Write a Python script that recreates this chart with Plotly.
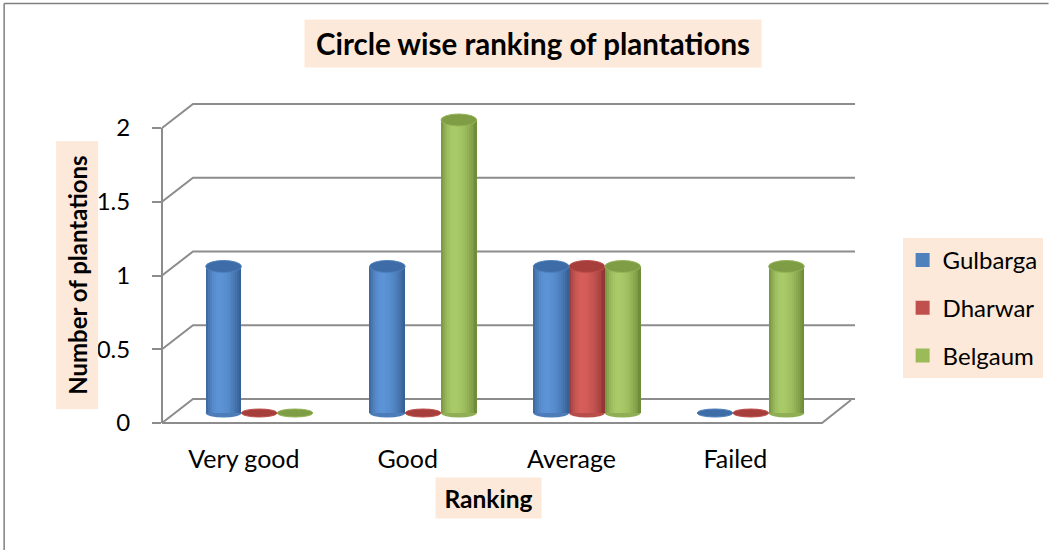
import plotly.graph_objects as go

# ---- data -------------------------------------------------------------
categories = ["Very good", "Good", "Average", "Failed"]
series_names = ["Gulbarga", "Dharwar", "Belgaum"]
gulbarga = [1, 1, 1, 0]
dharwar = [0, 0, 1, 0]
belgaum = [0, 2, 1, 1]
y_ticks = [0, 0.5, 1, 1.5, 2]
y_tick_labels = ["0", "0.5", "1", "1.5", "2"]

series_values = [gulbarga, dharwar, belgaum]

# ---- styling ----------------------------------------------------------
FONT = "Lato"
GRID = "#8C8C8C"
PEACH = "#FDE9D9"
# (edge shade, highlight shade, cap shade, legend swatch)
palette = [
    ("#345C8E", "#5C93D6", "#3E6CA6", "#4F81BD"),
    ("#8C3432", "#D55D5A", "#A63F3C", "#C0504D"),
    ("#6B8735", "#A9CA68", "#7E9D45", "#9BBB59"),
]

W, H = 1055, 550
PL, PR, PT, PB = 162, 855, 95, 432          # plot area in pixels
CAT = 165.0                                  # pixels per category (front)
FRONT_ZERO, FRONT_UNIT = 423.0, 147.5        # front axis: value 0 / px per unit
BAR_ZERO, BAR_UNIT = 413.0, 146.5            # mid-depth plane of the cylinders
BAR_SHIFT = 15.5                             # horizontal shift of mid-depth plane
DX, DY = 31, 24                              # depth of the box in pixels
FLOOR_W = 660                                # front floor edge length
BACK_W = PR - PL                             # back wall gridline end
BAR_PX = 36.0                                # cylinder diameter in pixels


def hex2rgb(h):
    h = h.lstrip("#")
    return tuple(int(h[i:i + 2], 16) for i in (0, 2, 4))


def mix(c1, c2, f):
    a, b = hex2rgb(c1), hex2rgb(c2)
    return "rgb({},{},{})".format(*[round(a[i] + (b[i] - a[i]) * f) for i in range(3)])


def shade_profile(t, peak=0.36):
    # brightness across a cylinder: dark rims, highlight left of centre
    if t < peak:
        d = (peak - t) / peak
        return 1 - 0.85 * d * d
    d = (t - peak) / (1 - peak)
    return 1 - d * d


def paper_x(p):
    return (p - PL) / (PR - PL)


def paper_y(p):
    return (PB - p) / (PB - PT)


# axis ranges derived from the pixel geometry above
x_range = [-0.5, -0.5 + (PR - PL) / CAT]
x2_range = [x_range[0] - BAR_SHIFT / CAT, x_range[1] - BAR_SHIFT / CAT]
y_range = [(FRONT_ZERO - PB) / FRONT_UNIT, (FRONT_ZERO - PT) / FRONT_UNIT]
y2_range = [(BAR_ZERO - PB) / BAR_UNIT, (BAR_ZERO - PT) / BAR_UNIT]

bw = BAR_PX / CAT                 # width of one cylinder in category units
n_strips = 18
sw = bw / n_strips
xpos = list(range(len(categories)))

fig = go.Figure()

# cylinder bodies: vertical strips shaded across the width
for k, vals in enumerate(series_values):
    edge, light, cap, swatch = palette[k]
    for j in range(n_strips):
        t = (j + 0.5) / n_strips
        col = mix(edge, light, shade_profile(t))
        fig.add_trace(go.Bar(
            x=xpos, y=vals,
            offset=(k - 1.5) * bw + j * sw,
            width=sw * (1.0 if j == n_strips - 1 else 1.35),
            marker=dict(color=col, line=dict(width=0)),
            xaxis="x2", yaxis="y2",
            showlegend=False, hoverinfo="skip",
        ))

# legend entries
for k, name in enumerate(series_names):
    fig.add_trace(go.Scatter(
        x=[None], y=[None], mode="markers", name=name,
        marker=dict(symbol="square", size=14, color=palette[k][3]),
        legendgroup=name,
    ))

shapes = []

# page border (top and left)
shapes.append(dict(type="line", xref="paper", yref="paper",
                   x0=paper_x(3), x1=paper_x(W), y0=paper_y(3.5), y1=paper_y(3.5),
                   line=dict(color="#7F7F7F", width=1.5), layer="below"))
shapes.append(dict(type="line", xref="paper", yref="paper",
                   x0=paper_x(3), x1=paper_x(3), y0=paper_y(3.5), y1=paper_y(H),
                   line=dict(color="#7F7F7F", width=1.5), layer="below"))

# back wall gridlines with their side-wall diagonals
for v in y_ticks:
    shapes.append(dict(
        type="path", xref="paper", yref="y", layer="below",
        xsizemode="pixel", xanchor=0, ysizemode="pixel", yanchor=v,
        path=f"M0,0 L{DX},{DY} L{BACK_W},{DY}",
        line=dict(color=GRID, width=2),
    ))

# floor front edge and right side
shapes.append(dict(
    type="path", xref="paper", yref="y", layer="below",
    xsizemode="pixel", xanchor=0, ysizemode="pixel", yanchor=0,
    path=f"M0,0 L{FLOOR_W},0 L{FLOOR_W + DX - 2},{DY - 1}",
    line=dict(color=GRID, width=2),
))
# front vertical axis line
shapes.append(dict(type="line", xref="paper", yref="y", layer="below",
                   x0=0, x1=0, y0=y_ticks[0], y1=y_ticks[-1],
                   line=dict(color=GRID, width=2)))

# rounded bottoms and caps of the cylinders
for k, vals in enumerate(series_values):
    edge, light, cap, swatch = palette[k]
    for i, v in enumerate(vals):
        x0 = i + (k - 1.5) * bw
        if v > 0:
            shapes.append(dict(
                type="circle", xref="x2", yref="y2", layer="below",
                x0=x0, x1=x0 + bw, ysizemode="pixel", yanchor=0, y0=-4.5, y1=4.5,
                fillcolor=mix(edge, light, 0.6), line=dict(width=0),
            ))
        h = 4.0 if v == 0 else 6.0
        shapes.append(dict(
            type="circle", xref="x2", yref="y2", layer="above",
            x0=x0, x1=x0 + bw, ysizemode="pixel", yanchor=v, y0=-h, y1=h,
            fillcolor=cap, line=dict(color=mix(cap, light, 0.5), width=1),
        ))

annotations = [
    dict(text="<b>Circle wise ranking of plantations</b>",
         xref="paper", yref="paper", x=paper_x(536), y=paper_y(43.5),
         xanchor="center", yanchor="middle", showarrow=False,
         width=456, height=47, bgcolor=PEACH, borderpad=0,
         font=dict(family=FONT, size=29.5, color="black")),
    dict(text="<b>Number of plantations</b>",
         xref="paper", yref="paper", x=paper_x(76.5), y=paper_y(275.5),
         xanchor="center", yanchor="middle", showarrow=False, textangle=-90,
         width=267, height=41, bgcolor=PEACH, borderpad=0,
         font=dict(family=FONT, size=24, color="black")),
    dict(text="<b>Ranking</b>",
         xref="paper", yref="paper", x=paper_x(490.5), y=paper_y(498),
         xanchor="center", yanchor="middle", showarrow=False,
         width=105, height=40, bgcolor=PEACH, borderpad=0,
         font=dict(family=FONT, size=24.5, color="black")),
]

fig.update_layout(
    width=W, height=H, autosize=False,
    margin=dict(l=PL, r=W - PR, t=PT, b=H - PB, pad=0),
    paper_bgcolor="white", plot_bgcolor="rgba(0,0,0,0)",
    barmode="overlay", bargap=0,
    font=dict(family=FONT, size=24, color="black"),
    xaxis=dict(type="category", categoryorder="array", categoryarray=categories,
               tickvals=categories, ticktext=categories,
               range=x_range, showgrid=False, zeroline=False, showline=False,
               ticks="", ticklabelstandoff=10, fixedrange=True,
               tickfont=dict(family=FONT, size=25)),
    xaxis2=dict(overlaying="x", range=x2_range, visible=False, fixedrange=True),
    yaxis=dict(range=y_range, tickvals=y_ticks, ticktext=y_tick_labels,
               showgrid=False, zeroline=False, showline=False,
               ticks="outside", ticklen=9, tickwidth=2, tickcolor=GRID,
               ticklabelstandoff=17, fixedrange=True,
               tickfont=dict(family=FONT, size=24)),
    yaxis2=dict(overlaying="y", range=y2_range, visible=False, fixedrange=True),
    legend=dict(x=paper_x(908), y=paper_y(238), xanchor="left", yanchor="top",
                bgcolor=PEACH, borderwidth=0, tracegroupgap=13.5,
                font=dict(family=FONT, size=24, color="black"),
                itemclick=False, itemdoubleclick=False),
    shapes=shapes,
    annotations=annotations,
    showlegend=True,
)

fig.write_html("out.html")
